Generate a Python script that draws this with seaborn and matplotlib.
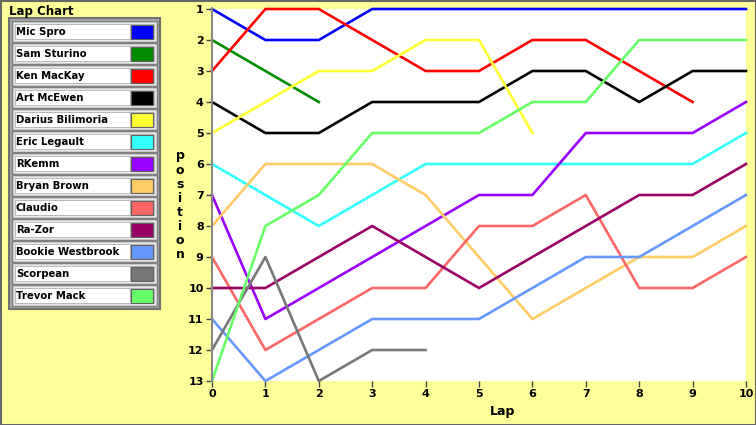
import numpy as np
import pandas as pd
import seaborn as sns
import matplotlib
matplotlib.use('Agg')
from matplotlib import pyplot as plt
from matplotlib.patches import Rectangle

# 车手与每圈名次（缺失圈数表示退赛）
drivers = ['Mic Spro', 'Sam Sturino', 'Ken MacKay', 'Art McEwen', 'Darius Bilimoria',
           'Eric Legault', 'RKemm', 'Bryan Brown', 'Claudio', 'Ra-Zor',
           'Bookie Westbrook', 'Scorpean', 'Trevor Mack']
colors = ['#0000FF', '#008C00', '#FF0000', '#000000', '#FFFF33',
          '#33FFFF', '#9900FF', '#FFCC66', '#FF6666', '#990066',
          '#6699FF', '#777777', '#66FF66']

mic_spro = [1, 2, 2, 1, 1, 1, 1, 1, 1, 1, 1]
sam_sturino = [2, 3, 4]
ken_mackay = [3, 1, 1, 2, 3, 3, 2, 2, 3, 4]
art_mcewen = [4, 5, 5, 4, 4, 4, 3, 3, 4, 3, 3]
darius = [5, 4, 3, 3, 2, 2, 5]
eric = [6, 7, 8, 7, 6, 6, 6, 6, 6, 6, 5]
rkemm = [7, 11, 10, 9, 8, 7, 7, 5, 5, 5, 4]
bryan = [8, 6, 6, 6, 7, 9, 11, 10, 9, 9, 8]
claudio = [9, 12, 11, 10, 10, 8, 8, 7, 10, 10, 9]
razor = [10, 10, 9, 8, 9, 10, 9, 8, 7, 7, 6]
bookie = [11, 13, 12, 11, 11, 11, 10, 9, 9, 8, 7]
scorpean = [12, 9, 13, 12, 12]
trevor = [13, 8, 7, 5, 5, 5, 4, 4, 2, 2, 2]

positions = [mic_spro, sam_sturino, ken_mackay, art_mcewen, darius, eric, rkemm,
             bryan, claudio, razor, bookie, scorpean, trevor]

rows = []
for name, pos in zip(drivers, positions):
    for lap, p in enumerate(pos):
        rows.append({'driver': name, 'lap': lap, 'position': p})
df = pd.DataFrame(rows)
palette = dict(zip(drivers, colors))

bg = '#FFFF99'
W, H = 756, 425
fig = plt.figure(figsize=(W / 100, H / 100), dpi=100, facecolor=bg)
plt.rcParams['font.family'] = 'DejaVu Sans'

ax = fig.add_axes([212 / W, (H - 381) / H, 534 / W, 372 / H])
ax.set_facecolor('white')
sns.lineplot(data=df, x='lap', y='position', hue='driver', palette=palette,
             hue_order=drivers, estimator=None, sort=False, linewidth=1.9,
             legend=False, ax=ax)
for line in ax.get_lines():
    line.set_clip_on(False)

ax.set_xlim(0, 10)
ax.set_ylim(13, 1)
ax.set_xticks(range(0, 11))
ax.set_yticks(range(1, 14))
ax.tick_params(labelsize=8, length=4, width=1, color='#444444', pad=2)
for lab in ax.get_xticklabels() + ax.get_yticklabels():
    lab.set_fontweight('bold')
for s in ['top', 'right', 'bottom']:
    ax.spines[s].set_visible(False)
ax.spines['left'].set_color('#888888')
ax.spines['left'].set_linewidth(1.5)
ax.set_xlabel('')
ax.set_ylabel('')

# 轴标题
fig.text(503 / W, 1 - 412 / H, 'Lap', ha='center', va='center', fontsize=9, fontweight='bold')
fig.text(180 / W, 1 - 205 / H, '\n'.join('position'), ha='center', va='center',
         fontsize=9, fontweight='bold', linespacing=1.1)

# 图例面板（像素坐标）
lax = fig.add_axes([0, 0, 1, 1], zorder=-1)
lax.set_xlim(0, W)
lax.set_ylim(H, 0)
lax.axis('off')
lax.patch.set_alpha(0)
lax.add_patch(Rectangle((0.5, 0.5), W - 1, H - 1, fill=False, ec='#666666', lw=1.5))
lax.text(9, 11, 'Lap Chart', fontsize=8.5, fontweight='bold', va='center', ha='left')
lax.add_patch(Rectangle((9, 18), 151, 291, fc='#A8A8A8', ec='#707070', lw=1.5))
for i, (name, c) in enumerate(zip(drivers, colors)):
    y0 = 21 + 22 * i
    lax.add_patch(Rectangle((12, y0), 145, 21, fc='#D4D4D4', ec='#808080', lw=1))
    lax.add_patch(Rectangle((14, y0 + 2), 141, 17, fc='#B0B0B0', ec='#E8E8E8', lw=1))
    lax.add_patch(Rectangle((15.5, y0 + 3.5), 114, 14, fc='white', ec='none'))
    lax.add_patch(Rectangle((131, y0 + 3.5), 22, 14, fc=c, ec='#606060', lw=0.8))
    lax.text(16, y0 + 11, name, fontsize=7.3, fontweight='bold', va='center', ha='left')

fig.savefig('out.png', dpi=100, facecolor=bg)
